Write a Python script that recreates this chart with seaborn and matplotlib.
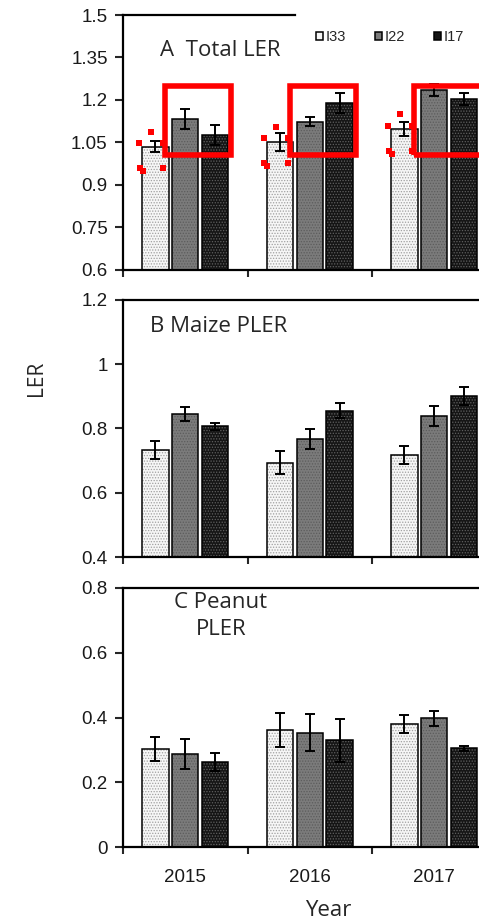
import matplotlib
matplotlib.use("Agg")
import matplotlib.pyplot as plt
import matplotlib.colors as mcolors
from matplotlib.patches import Rectangle
import numpy as np
import pandas as pd
import seaborn as sns

# ---------------- data ----------------
years = ["2015", "2016", "2017"]
treatments = ["I33", "I22", "I17"]

# rows: I33, I22, I17 ; columns: 2015, 2016, 2017
total_ler = [[1.035, 1.053, 1.097],
             [1.133, 1.124, 1.236],
             [1.077, 1.188, 1.202]]
total_err = [[0.020, 0.032, 0.025],
             [0.035, 0.015, 0.022],
             [0.035, 0.035, 0.021]]

maize_pler = [[0.733, 0.694, 0.717],
              [0.846, 0.767, 0.839],
              [0.807, 0.856, 0.901]]
maize_err = [[0.027, 0.035, 0.028],
             [0.022, 0.032, 0.031],
             [0.011, 0.022, 0.029]]

peanut_pler = [[0.302, 0.361, 0.380],
               [0.287, 0.353, 0.397],
               [0.263, 0.330, 0.305]]
peanut_err = [[0.037, 0.053, 0.028],
              [0.047, 0.058, 0.022],
              [0.028, 0.066, 0.008]]

panel_titles = ["A  Total LER", "B Maize PLER", "C Peanut\nPLER"]
ylims = [(0.6, 1.5), (0.4, 1.2), (0.0, 0.8)]
yticks = [[0.6, 0.75, 0.9, 1.05, 1.2, 1.35, 1.5],
          [0.4, 0.6, 0.8, 1.0, 1.2],
          [0.0, 0.2, 0.4, 0.6, 0.8]]
ytick_labels = [["0.6", "0.75", "0.9", "1.05", "1.2", "1.35", "1.5"],
                ["0.4", "0.6", "0.8", "1", "1.2"],
                ["0", "0.2", "0.4", "0.6", "0.8"]]

# ---------------- style ----------------
sns.set_style("ticks")
plt.rcParams["font.family"] = ["Liberation Sans", "DejaVu Sans"]
plt.rcParams["hatch.linewidth"] = 0.6

face_colors = {"I33": "#f6f6f6", "I22": "#7b7b7b", "I17": "#151515"}
hatch_colors = {"I33": "#a0a0a0", "I22": "#5c5c5c", "I17": "#606060"}

W, H = 479, 923
fig = plt.figure(figsize=(W / 100, H / 100), dpi=100)


def fx(x):
    return x / W


def fy(y):
    return 1 - y / H


# axes rectangles (pixel based layout)
ax_left = 123
panels_px = [(15, 270), (300, 557), (588, 847)]
px_per_unit = 124.5
x_right = (W - ax_left) / px_per_unit - 0.5

datasets = [(total_ler, total_err), (maize_pler, maize_err), (peanut_pler, peanut_err)]

axes = []
bar_containers = []
for k, ((top, bot), (vals, errs)) in enumerate(zip(panels_px, datasets)):
    ax = fig.add_axes([fx(ax_left), fy(bot), fx(W - ax_left), (bot - top) / H])
    axes.append(ax)
    df = pd.DataFrame({
        "Year": np.repeat([years], len(treatments), axis=0).ravel(),
        "Treatment": np.repeat(treatments, len(years)),
        "value": np.array(vals).ravel(),
    })
    sns.barplot(data=df, x="Year", y="value", hue="Treatment",
                order=years, hue_order=treatments, palette=face_colors,
                edgecolor="black", linewidth=1.1, width=0.72, gap=0.12,
                errorbar=None, ax=ax, legend=(k == 0), zorder=2)

    conts = list(ax.containers)
    bar_containers.append(conts)
    for i, cont in enumerate(conts):
        t = treatments[i]
        xs, ys = [], []
        for j, bar in enumerate(cont):
            bar.set_hatch("......")
            try:
                bar._hatch_color = mcolors.to_rgba(hatch_colors[t])
            except Exception:
                pass
            xs.append(bar.get_x() + bar.get_width() / 2)
            ys.append(bar.get_height())
        ax.errorbar(xs, ys, yerr=errs[i], fmt="none", ecolor="black",
                    elinewidth=1.4, capsize=3.5, capthick=1.4, zorder=4)

    ax.set_yticks(yticks[k])
    ax.set_yticklabels(ytick_labels[k])
    ax.set_xticks(range(len(years)))
    ax.set_xticks([-0.5, 0.5, 1.5], minor=True)
    if k == 2:
        ax.set_xticklabels(years)
    else:
        ax.set_xticklabels([])
    ax.set_xlim(-0.5, x_right)
    ax.set_ylim(*ylims[k])
    ax.set_xlabel("")
    ax.set_ylabel("")
    for s in ["left", "bottom", "top"]:
        ax.spines[s].set_linewidth(1.6)
        ax.spines[s].set_color("black")
    ax.spines["right"].set_visible(False)
    ax.tick_params(axis="y", length=6, width=1.5, pad=5, labelsize=13.5,
                   labelcolor="#1a1a1a", direction="out")
    ax.tick_params(axis="x", which="major", length=0, pad=16, labelsize=13.5,
                   labelcolor="#1a1a1a")
    ax.tick_params(axis="x", which="minor", length=5, width=1.5, direction="out")

# partial top frame in panel A
axes[0].spines["top"].set_bounds(-0.5, (295 - ax_left) / px_per_unit - 0.5)

# ----- legend (panel A) -----
axA = axes[0]
handles, labels = axA.get_legend_handles_labels()
if axA.get_legend() is not None:
    axA.get_legend().remove()
axA.legend(handles, labels, ncol=3, loc="center left",
           bbox_to_anchor=(fx(316), fy(37)), bbox_transform=fig.transFigure,
           frameon=False, borderpad=0, borderaxespad=0,
           handlelength=0.45, handleheight=0.45, handletextpad=0.2,
           columnspacing=2.0,
           prop={"family": ["Liberation Sans Narrow", "Liberation Sans"], "size": 10.5})

# ----- red highlight annotations (panel A) -----
rect_x = (-0.16, 0.37)
rect_y = (1.005, 1.25)
dot_dx = [-0.129, -0.032, -0.125, -0.100, 0.064, 0.064]
dot_dy = [0.012, 0.053, -0.076, -0.087, -0.076, 0.012]
i33_bars = bar_containers[0][0]
for j, bar in enumerate(i33_bars):
    axA.add_patch(Rectangle((j + rect_x[0], rect_y[0]), rect_x[1] - rect_x[0],
                            rect_y[1] - rect_y[0], fill=False, edgecolor="#ff0000",
                            linewidth=4, zorder=6, clip_on=False))
    cx = bar.get_x() + bar.get_width() / 2
    cy = bar.get_height()
    axA.scatter([cx + d for d in dot_dx], [cy + d for d in dot_dy], marker="s",
                s=14, color="#ff0000", linewidths=0, zorder=7, clip_on=False)

# ----- panel titles -----
title_font = ["Open Sans", "DejaVu Sans"]
fig.text(fx(160), fy(50), panel_titles[0], ha="left", va="center",
         family=title_font, fontsize=16)
fig.text(fx(150), fy(326), panel_titles[1], ha="left", va="center",
         family=title_font, fontsize=16)
fig.text(fx(221), fy(616), panel_titles[2], ha="center", va="center",
         family=title_font, fontsize=16, linespacing=1.35)

# ----- axis labels -----
fig.text(fx(36), fy(378), "LER", rotation=90, ha="center", va="center",
         family=title_font, fontsize=15)
fig.text(fx(328), fy(911), "Year", ha="center", va="center",
         family=title_font, fontsize=16)

fig.savefig("out.png", dpi=100)
